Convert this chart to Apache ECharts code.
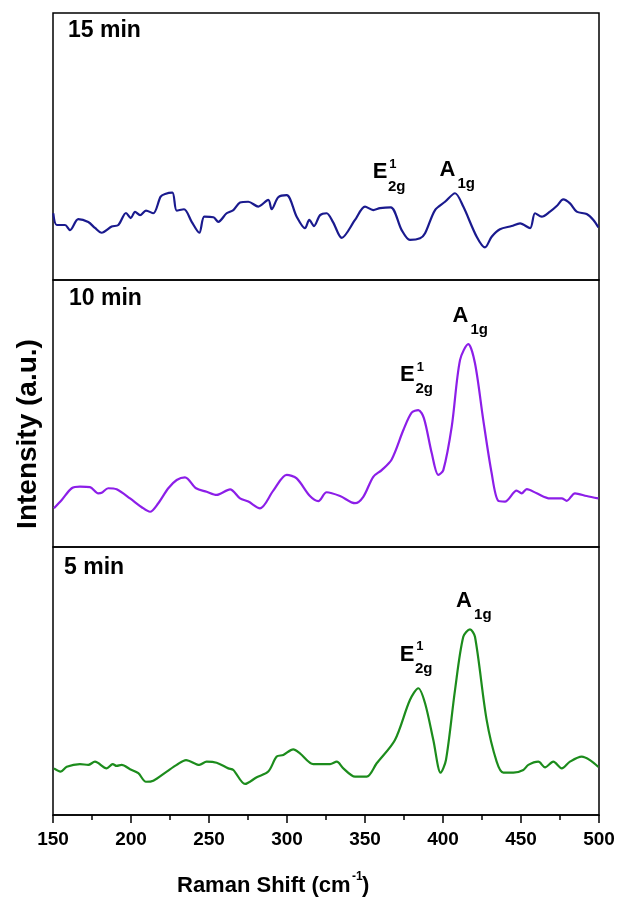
<!DOCTYPE html>
<html>
<head>
<meta charset="utf-8">
<script src="https://cdn.jsdelivr.net/npm/echarts@6/dist/echarts.min.js"></script>
<style>
html,body{margin:0;padding:0;background:#fff;}
#c{width:620px;height:900px;}
</style>
</head>
<body>
<div id="c"></div>
<script>
// ---- data (Raman shift in cm-1, intensity in arbitrary units per panel) ----
var xTicks = [150, 200, 250, 300, 350, 400, 450, 500];
var panelNames = ['15 min', '10 min', '5 min'];

var shift15 = [150.2,152.4,157.7,160.9,166.2,172.6,176.9,181.2,187.6,191.9,196.8,199.8,202.6,205.8,209.6,214.3,219.0,221.8,226.5,229.3,234.0,238.9,243.8,247.0,252.8,256.0,261.3,265.6,269.9,275.2,281.6,288.0,290.2,294.4,299.8,306.2,311.5,314.3,317.3,321.2,325.4,329.5,335.1,343.6,350.0,355.3,359.6,366.5,373.5,378.8,385.3,388.5,394.9,401.3,407.7,413.0,421.6,426.9,431.2,436.5,444.0,449.4,455.8,459.0,463.3,468.6,472.9,477.1,481.4,485.7,492.1,496.4,499.6];
var int15 = [25.0,20.6,20.6,18.7,22.8,21.7,19.5,17.7,20.0,20.6,25.1,23.2,25.5,24.3,26.0,25.0,31.2,32.2,32.7,26.0,26.5,21.8,17.7,23.7,23.5,21.8,25.0,26.2,29.0,29.3,27.5,30.0,26.5,31.0,31.8,23.7,19.4,22.5,20.2,24.3,25.0,21.7,15.8,22.5,27.5,26.2,26.9,27.2,18.7,15.0,15.6,17.5,26.2,29.3,32.5,27.5,16.2,12.2,16.2,19.0,20.2,21.2,19.4,25.0,23.7,25.6,27.7,30.2,28.7,25.6,24.7,22.5,19.7];

var shift10 = [150.6,155.6,162.0,167.3,173.7,179.0,181.2,185.4,190.8,199.4,206.9,212.2,217.5,223.9,229.3,234.6,241.7,248.5,254.9,263.5,269.9,275.2,282.7,291.2,299.8,306.2,314.7,320.1,325.4,334.0,343.6,348.9,355.3,360.7,367.1,374.6,379.9,384.2,387.8,392.8,397.0,400.2,405.6,410.9,416.2,420.5,425.8,431.2,435.4,439.7,447.2,450.4,453.7,460.1,468.6,476.1,479.3,484.6,492.1,499.6];
var int10 = [14.5,17.6,22.0,22.6,22.4,20.1,20.3,22.0,21.6,18.2,14.9,13.2,16.4,22.0,25.1,26.1,22.0,20.7,19.5,21.6,18.2,17.0,14.5,21.1,27.0,25.7,19.1,17.2,20.5,19.1,16.4,18.8,26.3,28.8,32.8,43.8,50.3,51.3,48.2,35.1,27.0,28.8,45.1,70.0,76.0,68.8,47.6,27.6,17.3,17.0,21.1,20.1,21.7,20.1,18.2,18.2,17.3,20.1,19.1,18.2];

var shift5 = [150.6,154.9,158.8,167.3,172.6,176.9,184.4,188.3,190.8,194.0,199.4,204.7,209.6,214.3,222.9,229.3,235.3,243.8,248.5,254.9,262.4,265.6,273.1,280.6,288.0,293.4,297.6,304.0,308.3,316.9,327.6,331.9,336.1,343.6,351.1,357.5,369.2,378.8,384.2,388.5,393.8,398.5,401.9,407.7,413.0,417.3,420.5,428.0,434.4,438.7,445.1,451.5,454.7,461.1,465.4,470.7,476.1,481.4,488.9,494.2,499.6];
var int5 = [17.4,16.2,18.0,19.0,18.7,19.9,17.4,19.0,18.3,18.7,17.1,15.6,12.4,12.8,16.2,18.7,20.5,18.7,19.9,19.5,17.4,16.8,11.6,14.1,16.2,21.8,22.4,24.5,23.0,19.0,19.0,19.9,17.4,14.3,14.3,19.3,28.0,42.9,47.3,41.7,28.0,15.8,20.5,46.6,66.5,69.3,66.5,35.4,19.9,15.8,15.8,16.8,18.7,19.9,17.8,19.9,17.4,19.9,21.8,20.5,17.9];

// peak label anchors (data coordinates: shift, intensity) per panel
var e2gAnchors = [[359.6, 40.3], [377.2, 64.4], [376.9, 59.9]];
var a1gAnchors = [[402.9, 41.4], [411.2, 86.7], [413.5, 80.0]];

var colors = ['#1a1a8e', '#8c1ee8', '#1c8c1c'];
var FONT = '"Liberation Sans", Arial, sans-serif';

function pairs(xs, ys) { var out = []; for (var i = 0; i < xs.length; i++) out.push([xs[i], ys[i]]); return out; }
var seriesData = [pairs(shift15, int15), pairs(shift10, int10), pairs(shift5, int5)];

var chart = echarts.init(document.getElementById('c'), null, {renderer: 'canvas'});
var gridTops = [13, 280, 547];
var gridHeights = [267, 267, 268];

var grids = [], xAxes = [], yAxes = [], series = [];
for (var i = 0; i < 3; i++) {
  grids.push({left: 53, right: 21, top: gridTops[i], height: gridHeights[i], show: true,
    borderColor: '#000', borderWidth: 1.5, backgroundColor: 'transparent'});
  var last = (i === 2);
  xAxes.push({
    type: 'value', gridIndex: i, min: 150, max: 500, interval: 50,
    show: true,
    axisLine: {show: last, onZero: false, lineStyle: {color: '#000', width: 1.5}},
    axisTick: {show: last, inside: false, length: 8, lineStyle: {color: '#000', width: 1.5}},
    minorTick: {show: last, splitNumber: 2, length: 5, lineStyle: {color: '#000', width: 1.5}},
    axisLabel: {show: last, color: '#000', fontSize: 19, fontWeight: 'bold', fontFamily: FONT, margin: 15,
      customValues: xTicks},
    splitLine: {show: false}, minorSplitLine: {show: false}
  });
  yAxes.push({type: 'value', gridIndex: i, min: 0, max: 100, show: false});
  series.push({
    type: 'line', xAxisIndex: i, yAxisIndex: i, data: seriesData[i], showSymbol: false,
    symbol: 'none', smooth: 0.3, lineStyle: {color: colors[i], width: 2.2}, itemStyle: {color: colors[i]},
    animation: false, clip: true
  });
}

chart.setOption({
  animation: false,
  grid: grids, xAxis: xAxes, yAxis: yAxes, series: series
});

var g = [];
var panelLabelPos = [[68, 31], [69, 299], [64, 568]];
for (var i = 0; i < 3; i++) {
  g.push({type: 'text', x: panelLabelPos[i][0], y: panelLabelPos[i][1],
    style: {text: panelNames[i], fill: '#000', font: 'bold 23px ' + FONT, verticalAlign: 'middle', align: 'left'}});
  var pe = chart.convertToPixel({gridIndex: i}, e2gAnchors[i]);
  g.push({type: 'text', x: pe[0], y: pe[1], style: {text: 'E', fill: '#000', font: 'bold 22px ' + FONT, align: 'center', verticalAlign: 'middle'}});
  g.push({type: 'text', x: pe[0] + 13, y: pe[1] - 8, style: {text: '1', fill: '#000', font: 'bold 13px ' + FONT, align: 'center', verticalAlign: 'middle'}});
  g.push({type: 'text', x: pe[0] + 8, y: pe[1] + 14, style: {text: '2g', fill: '#000', font: 'bold 15px ' + FONT, align: 'left', verticalAlign: 'middle'}});
  var pa = chart.convertToPixel({gridIndex: i}, a1gAnchors[i]);
  g.push({type: 'text', x: pa[0], y: pa[1], style: {text: 'A', fill: '#000', font: 'bold 22px ' + FONT, align: 'center', verticalAlign: 'middle'}});
  g.push({type: 'text', x: pa[0] + 10, y: pa[1] + 14, style: {text: '1g', fill: '#000', font: 'bold 15px ' + FONT, align: 'left', verticalAlign: 'middle'}});
}
// axis titles
g.push({type: 'text', x: 28, y: 434, rotation: Math.PI / 2,
  style: {text: 'Intensity (a.u.)', fill: '#000', font: 'bold 28px ' + FONT, align: 'center', verticalAlign: 'middle'}});
g.push({type: 'group', x: 177, y: 886, children: [
  {type: 'text', x: 0, y: 0, style: {text: 'Raman Shift (cm', fill: '#000', font: 'bold 22px ' + FONT, align: 'left', verticalAlign: 'middle'}},
  {type: 'text', x: 175, y: -9, style: {text: '-1', fill: '#000', font: 'bold 12px ' + FONT, align: 'left', verticalAlign: 'middle'}},
  {type: 'text', x: 185, y: 0, style: {text: ')', fill: '#000', font: 'bold 22px ' + FONT, align: 'left', verticalAlign: 'middle'}}
]});
chart.setOption({graphic: g});
</script>
</body>
</html>
